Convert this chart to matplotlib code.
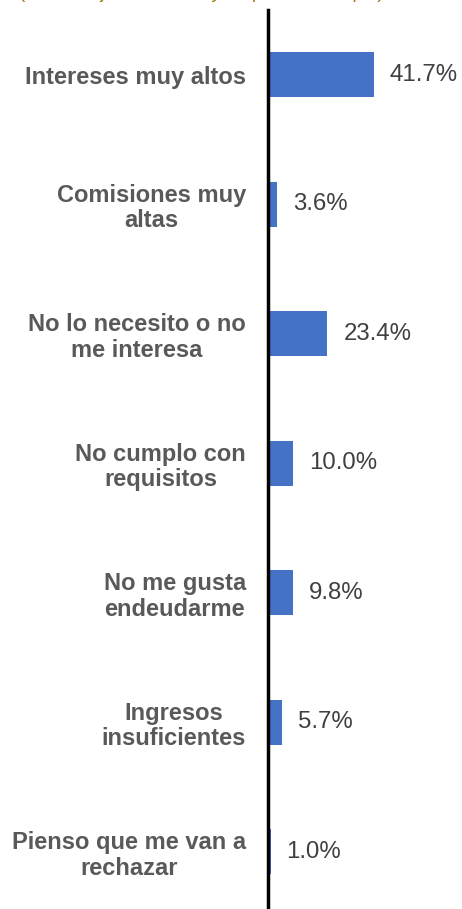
import numpy as np
from matplotlib import pyplot as plt

# razones para no solicitar credito
razones = ['Intereses muy altos', 'Comisiones muy\naltas',
           'No lo necesito o no\nme interesa', 'No cumplo con\nrequisitos',
           'No me gusta\nendeudarme', 'Ingresos\ninsuficientes',
           'Pienso que me van a\nrechazar']
porcentajes = [41.7, 3.6, 23.4, 10.0, 9.8, 5.7, 1.0]

plt.rcParams['font.family'] = ['Liberation Sans', 'DejaVu Sans']

fig = plt.figure(figsize=(4.62, 9.09), dpi=100)
ax = fig.add_axes([268/462, (909 - 916.5)/909, 194/462, 906.5/909])

y = np.arange(len(razones))
ax.barh(y, porcentajes, height=0.35, color='#4472C4')
for yi, v in zip(y, porcentajes):
    ax.text(v + 6.3, yi, f'{v:.1f}%', va='center', ha='left',
            fontsize=17.3, color='#404040')

ax.set_xlim(0, 194/2.54)
ax.set_ylim(len(razones) - 0.5, -0.5)
ax.set_yticks(y)
ax.set_yticklabels(razones, fontsize=17, fontweight='bold', color='#595959',
                   ha='right', multialignment='center', linespacing=1.15)
ax.tick_params(axis='y', length=0, pad=16)
ax.set_xticks([])
for s in ['top', 'right', 'bottom']:
    ax.spines[s].set_visible(False)
ax.spines['left'].set_linewidth(2.5)
ax.spines['left'].set_color('black')

# subtitulo, recortado por el borde superior
fig.text(201/462, 1.0 + 2/909, '(Porcentaje de adultos y respuesta múltiple)',
         ha='center', va='baseline', fontsize=13.5, color='#A07818')

fig.savefig('out.png', dpi=100)
